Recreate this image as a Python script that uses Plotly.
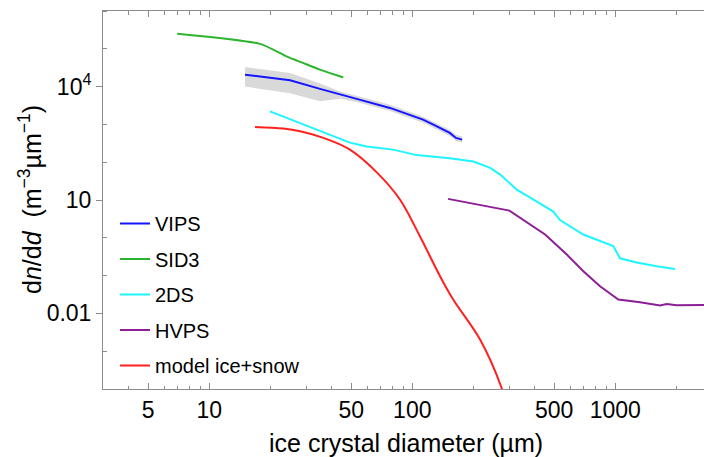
import plotly.graph_objects as go

# ---- data (diameter in µm, dn/dd in m^-3 µm^-1) ----
vips_d = [15.0, 25.0, 35.1, 44.1, 53.2, 77.6, 113, 127, 153, 164, 176]
vips_n = [2.07e4, 1.47e4, 8.7e3, 6.14e3, 4.73e3, 2.73e3, 1.34e3, 988, 596, 439, 396]
vips_upper = [3.3e4, 2.3e4, 1.2e4, 7.4e3, 5.7e3, 3.3e3, 1.6e3, 1.19e3, 720, 530, 480]
vips_lower = [1.0e4, 6.7e3, 4.1e3, 4.8e3, 3.9e3, 2.25e3, 1.11e3, 820, 495, 365, 330]

sid3_d = [6.95, 17.8, 24.0, 28.9, 35.1, 44.0, 45.7]
sid3_n = [2.52e5, 1.35e5, 6.3e4, 4.24e4, 2.82e4, 1.87e4, 1.76e4]

ds2_d = [19.9, 49.3, 59.6, 80.5, 105, 153, 200, 242, 271, 327, 407, 495, 534, 695, 977, 1054, 1274, 1599, 1968]
ds2_n = [2.22e3, 330, 259, 215, 154, 128, 104, 70.6, 47.0, 18.8, 9.35, 4.93, 2.94, 1.22, 0.603, 0.287, 0.221, 0.176, 0.150]

hvps_d = [150, 301, 451, 577, 696, 841, 1035, 1324, 1661, 1792, 2006, 3000]
hvps_n = [10.7, 5.25, 1.22, 0.360, 0.130, 0.0521, 0.0232, 0.0197, 0.0161, 0.0178, 0.0164, 0.0168]

model_d = [16.8, 23.2, 28.0, 36.5, 49.3, 67.8, 86.9, 109, 137, 159, 216, 276, 290]
model_n = [859, 774, 656, 439, 215, 49.9, 10.3, 1.10, 0.0958, 0.0232, 0.0020, 1.03e-4, 4e-5]

x_major = [5, 10, 50, 100, 500, 1000]
x_major_text = ["5", "10", "50", "100", "500", "1000"]
x_minor = [3, 4, 6, 7, 8, 9, 20, 30, 40, 60, 70, 80, 90, 200, 300, 400, 600, 700, 800, 900, 2000]
y_major = [1e4, 10, 0.01]
y_major_text = ["10<sup>4</sup>", "10", "0.01"]
y_minor = [1e-4, 1e-3, 0.1, 1, 100, 1000, 1e5, 1e6]

FONT = "Liberation Sans, Arial, Helvetica, sans-serif"
AX = "#8c8c8c"

fig = go.Figure()
fig.add_trace(go.Scatter(
    x=vips_d + vips_d[::-1], y=vips_upper + vips_lower[::-1],
    fill="toself", fillcolor="#d9d9d9", line=dict(width=0),
    mode="lines", showlegend=False, hoverinfo="skip"))
fig.add_trace(go.Scatter(x=vips_d, y=vips_n, mode="lines", name="VIPS",
                         line=dict(color="#1414ff", width=2), legendgroup="a"))
fig.add_trace(go.Scatter(x=sid3_d, y=sid3_n, mode="lines", name="SID3",
                         line=dict(color="#2db42d", width=2, shape="spline", smoothing=0.6),
                         legendgroup="b"))
fig.add_trace(go.Scatter(x=ds2_d, y=ds2_n, mode="lines", name="2DS",
                         line=dict(color="#1ef5ff", width=2), legendgroup="c"))
fig.add_trace(go.Scatter(x=hvps_d, y=hvps_n, mode="lines", name="HVPS",
                         line=dict(color="#8c1e96", width=2), legendgroup="d"))
fig.add_trace(go.Scatter(x=model_d, y=model_n, mode="lines", name="model ice+snow",
                         line=dict(color="#ff2020", width=2, shape="spline", smoothing=1.0),
                         legendgroup="e"))

L, R, T, B = 103, 0, 11, 68
W, H = 704, 457
pw = W - L - R
ph = H - T - B
x_lo = 1 - (209.3 - L) / 203.0
x_hi = x_lo + pw / 203.0

fig.update_layout(
    width=W, height=H,
    margin=dict(l=L, r=R, t=T, b=B, pad=0, autoexpand=False),
    plot_bgcolor="white", paper_bgcolor="white",
    font=dict(family=FONT, color="black", size=23),
    showlegend=True,
    legend=dict(x=(115 - L) / pw, xanchor="left", y=(T + ph - 204) / ph, yanchor="top",
                font=dict(size=20, family=FONT), bgcolor="rgba(0,0,0,0)",
                tracegroupgap=6.5, itemwidth=30),
    xaxis=dict(type="log", range=[x_lo, x_hi], showgrid=False, zeroline=False,
               automargin=False,
               showline=True, linecolor=AX, linewidth=1, mirror="ticks",
               ticks="inside", ticklen=6, tickcolor=AX, tickwidth=1,
               tickmode="array", tickvals=x_major, ticktext=x_major_text,
               tickfont=dict(size=23),
               minor=dict(tickmode="array", tickvals=x_minor, ticks="inside",
                          ticklen=3.5, tickcolor=AX, showgrid=False)),
    yaxis=dict(type="log", range=[-4, 6], showgrid=False, zeroline=False,
               automargin=False,
               showline=True, linecolor=AX, linewidth=1, mirror=False,
               ticks="outside", ticklen=6, tickcolor=AX, tickwidth=1,
               tickmode="array", tickvals=y_major, ticktext=y_major_text,
               tickfont=dict(size=23),
               minor=dict(tickmode="array", tickvals=y_minor, ticks="inside",
                          ticklen=3.5, tickcolor=AX, showgrid=False)),
    annotations=[
        dict(text="ice crystal diameter (µm)", xref="paper", yref="paper",
             x=(406 - L) / pw, y=(T + ph - 443) / ph, xanchor="center", yanchor="middle",
             showarrow=False, font=dict(size=25, family=FONT)),
        dict(text="d<i>n</i>/d<i>d</i>  (m<sup>−3</sup>µm<sup>−1</sup>)", xref="paper", yref="paper",
             x=(30 - L) / pw, y=(T + ph - 200) / ph, xanchor="center", yanchor="middle",
             textangle=-90, showarrow=False, font=dict(size=25, family=FONT)),
    ],
)

fig.write_html("out.html",
               config={"displayModeBar": False},
               post_script="document.body.style.margin='0';document.body.style.padding='0';")
